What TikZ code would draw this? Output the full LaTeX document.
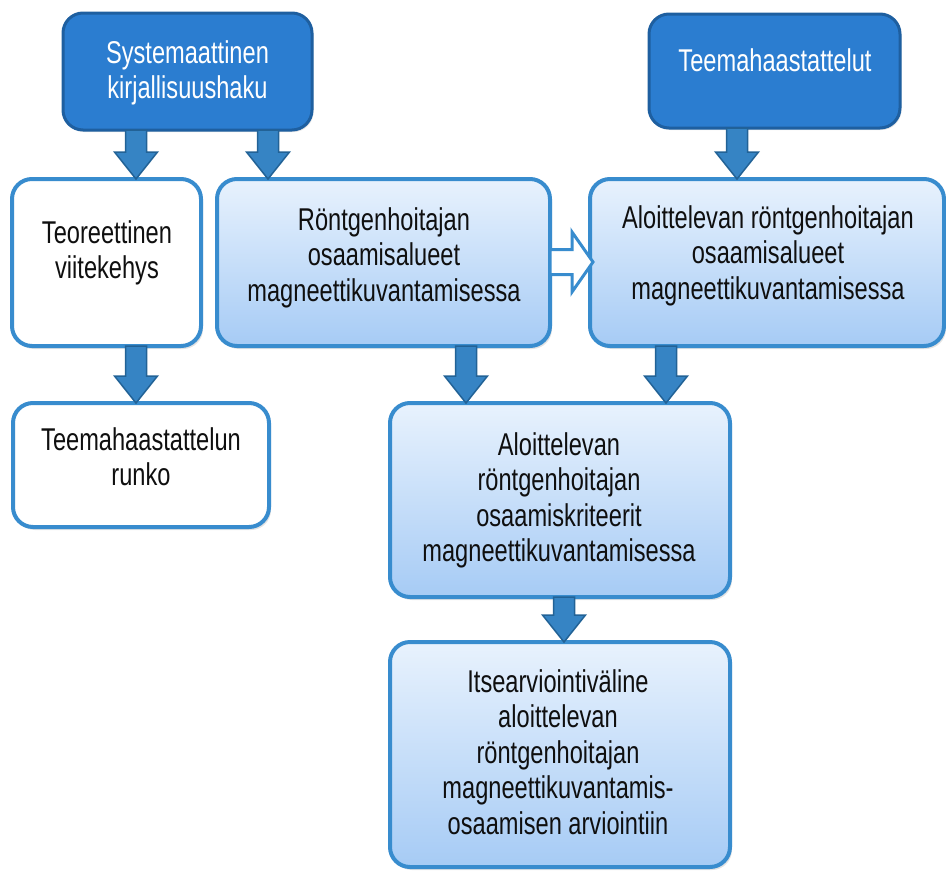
\documentclass[tikz,border=0pt]{standalone}
\usepackage{fontspec}
\setmainfont{Liberation Sans}
\newfontfamily\narrowfont[FakeStretch=0.75]{Liberation Sans}
\usetikzlibrary{calc,shadows}
\definecolor{darkfill}{RGB}{43,125,208}
\definecolor{darkline}{RGB}{30,95,160}
\definecolor{lightline}{RGB}{56,140,206}
\definecolor{gradtop}{RGB}{232,242,253}
\definecolor{gradbot}{RGB}{166,203,245}
\definecolor{arrowfill}{RGB}{54,132,196}
\definecolor{arrowline}{RGB}{34,98,150}
\definecolor{textcol}{RGB}{15,15,15}
\tikzset{
  boxbase/.style={rounded corners=20pt, inner sep=0pt, outer sep=0pt},
  darkbox/.style={boxbase, draw=darkline, line width=3pt, fill=darkfill,
    drop shadow={shadow xshift=1.5pt, shadow yshift=-2pt, opacity=0.2}},
  lightbox/.style={boxbase, draw=lightline, line width=4pt, top color=gradtop, bottom color=gradbot,
    drop shadow={shadow xshift=2pt, shadow yshift=-3pt, opacity=0.22}},
  whitebox/.style={boxbase, draw=lightline, line width=4pt, fill=white,
    drop shadow={shadow xshift=2pt, shadow yshift=-3pt, opacity=0.22}},
  txt/.style={font={\narrowfont\fontsize{31.5}{35.5}\selectfont}, align=center, inner sep=0pt, anchor=north, text=textcol},
  wtxt/.style={txt, text=white},
  barrow/.style={draw=arrowline, fill=arrowfill, line width=1.5pt, line join=miter},
  harrow/.style={draw=lightline, fill=white, line width=3pt, line join=miter}
}
\newcommand\blockdown[3]{%
  \draw[barrow] let \p1=(#1.south), \p2=(#2.north) in
    (#3pt-10.5pt,\y1) -- (#3pt-10.5pt,\y2+27pt) -- (#3pt-21.5pt,\y2+27pt) -- (#3pt,\y2)
    -- (#3pt+21.5pt,\y2+27pt) -- (#3pt+10.5pt,\y2+27pt) -- (#3pt+10.5pt,\y1) -- cycle;}
\newcommand\hollowright[3]{%
  \draw[harrow] let \p1=(#1.east), \p2=(#2.west) in
    (\x1,#3pt+12.5pt) -- (\x2-18pt,#3pt+12.5pt) -- (\x2-18pt,#3pt+30pt) -- (\x2+3pt,#3pt)
    -- (\x2-18pt,#3pt-30pt) -- (\x2-18pt,#3pt-12.5pt) -- (\x1,#3pt-12.5pt) -- cycle;}
\begin{document}
\begin{tikzpicture}[x=1pt,y=1pt]
\useasboundingbox (0,0) rectangle (946,-871);
% boxes
\node[darkbox, minimum width=249pt, minimum height=117pt] (A) at (187.5,-71.5) {};
\node[darkbox, minimum width=251pt, minimum height=114pt] (B) at (774.5,-71) {};
\node[whitebox, minimum width=189pt, minimum height=167pt] (C) at (106.5,-262.5) {};
\node[lightbox, minimum width=333pt, minimum height=167pt] (D) at (383.5,-262.5) {};
\node[lightbox, minimum width=354pt, minimum height=167pt] (E) at (767,-262.5) {};
\node[whitebox, minimum width=256pt, minimum height=124pt] (F) at (141,-465) {};
\node[lightbox, minimum width=340pt, minimum height=194pt] (G) at (560,-500) {};
\node[lightbox, minimum width=340pt, minimum height=225pt] (H) at (560,-754.5) {};
% texts
\node[wtxt] (At) at (187.5,-38.15) {\strut Systemaattinen\\kirjallisuushaku};
\node[wtxt] (Bt) at (775,-46.15) {\strut Teemahaastattelut};
\node[txt] (Ct) at (107,-218.15) {\strut Teoreettinen\\viitekehys};
\node[txt] (Dt) at (384,-205.15) {\strut Röntgenhoitajan\\osaamisalueet\\magneettikuvantamisessa};
\node[txt] (Et) at (768,-203.15) {\strut Aloittelevan röntgenhoitajan\\osaamisalueet\\magneettikuvantamisessa};
\node[txt] (Ft) at (141,-425.15) {\strut Teemahaastattelun\\runko};
\node[txt] (Gt) at (559,-430.15) {\strut Aloittelevan\\röntgenhoitajan\\osaamiskriteerit\\magneettikuvantamisessa};
\node[txt] (Ht) at (558,-667.15) {\strut Itsearviointiväline\\aloittelevan\\röntgenhoitajan\\magneettikuvantamis-\\osaamisen arviointiin};
% arrows
\blockdown{A}{C}{136}
\blockdown{A}{D}{268}
\blockdown{B}{E}{737}
\blockdown{C}{F}{136}
\blockdown{D}{G}{466}
\blockdown{E}{G}{666}
\blockdown{G}{H}{564}
\hollowright{D}{E}{-262}
\end{tikzpicture}
\end{document}
